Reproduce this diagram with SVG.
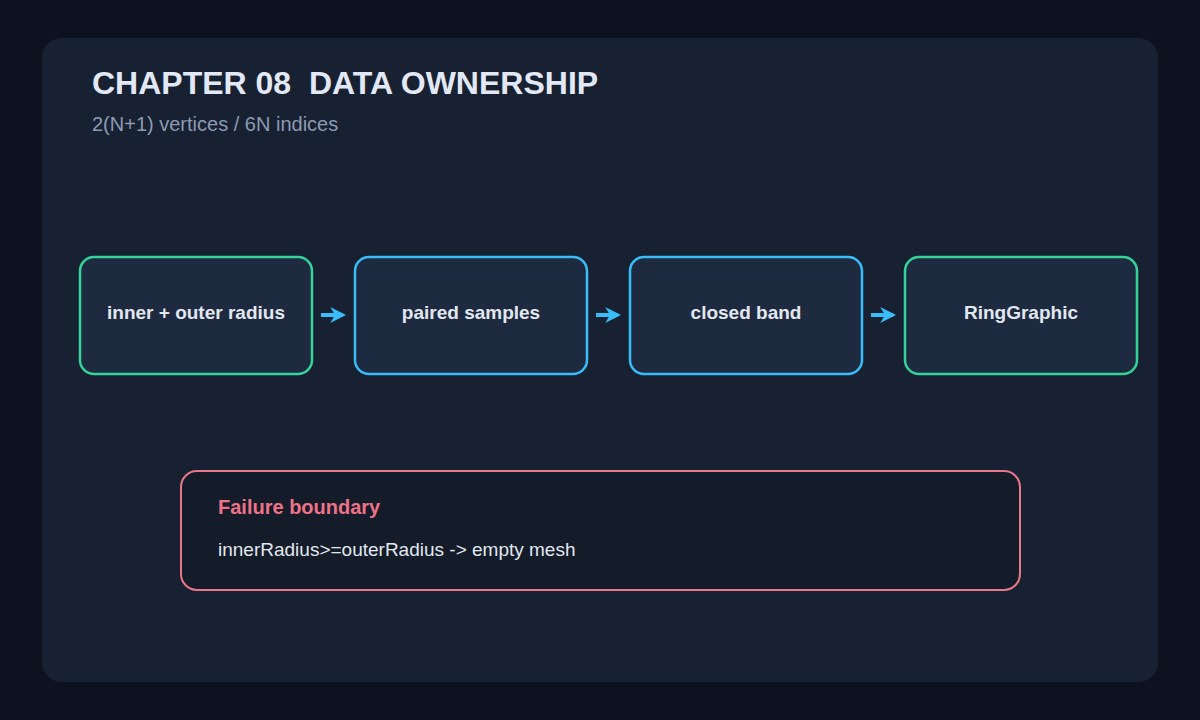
<svg xmlns="http://www.w3.org/2000/svg" width="1200" height="720" viewBox="0 0 1200 720">
<defs>
<style>
.t{font-family:"Liberation Sans",Arial,sans-serif}
.node rect{fill:#1e2a40;stroke-width:2.5}
.g rect{stroke:#34d399}
.b rect{stroke:#38bdf8}
.node text{font-family:"Liberation Sans",Arial,sans-serif;font-size:19px;font-weight:bold;fill:#e2e8f0;text-anchor:middle}
.conn line{stroke:#38bdf8;stroke-width:4}
</style>
<marker id="ah" viewBox="0 0 10 10" refX="8" refY="5" markerWidth="4" markerHeight="4.2" orient="auto" markerUnits="strokeWidth">
<path d="M0,0 L10,5 L0,10 L3,5 Z" fill="#38bdf8"/>
</marker>
</defs>
<rect width="1200" height="720" fill="#0c1220"/>
<rect x="42" y="38" width="1116" height="644" rx="20" fill="#182132"/>
<text class="t" x="92" y="94" font-size="32" font-weight="bold" fill="#e2e8f5" xml:space="preserve" style="white-space:pre">CHAPTER 08  DATA OWNERSHIP</text>
<text class="t" x="92" y="131" font-size="20" fill="#8a9ab2">2(N+1) vertices / 6N indices</text>
<g id="n1" class="node g"><rect x="80" y="257" width="232" height="117" rx="14"/><text x="196" y="319">inner + outer radius</text></g>
<g id="n2" class="node b"><rect x="355" y="257" width="232" height="117" rx="14"/><text x="471" y="319">paired samples</text></g>
<g id="n3" class="node b"><rect x="630" y="257" width="232" height="117" rx="14"/><text x="746" y="319">closed band</text></g>
<g id="n4" class="node g"><rect x="905" y="257" width="232" height="117" rx="14"/><text x="1021" y="319">RingGraphic</text></g>
<g id="connectors" class="conn">
<line x1="321" y1="315" x2="343" y2="315" marker-end="url(#ah)"/>
<line x1="596" y1="315" x2="618" y2="315" marker-end="url(#ah)"/>
<line x1="871" y1="315" x2="893" y2="315" marker-end="url(#ah)"/>
</g>
<g id="failure">
<rect x="181" y="471" width="839" height="119" rx="16" fill="#141b29" stroke="#e8778a" stroke-width="2"/>
<text class="t" x="218" y="514" font-size="20" font-weight="bold" fill="#ee7388">Failure boundary</text>
<text class="t" x="218" y="556" font-size="19" fill="#e2e8f0">innerRadius&gt;=outerRadius -&gt; empty mesh</text>
</g>
</svg>
